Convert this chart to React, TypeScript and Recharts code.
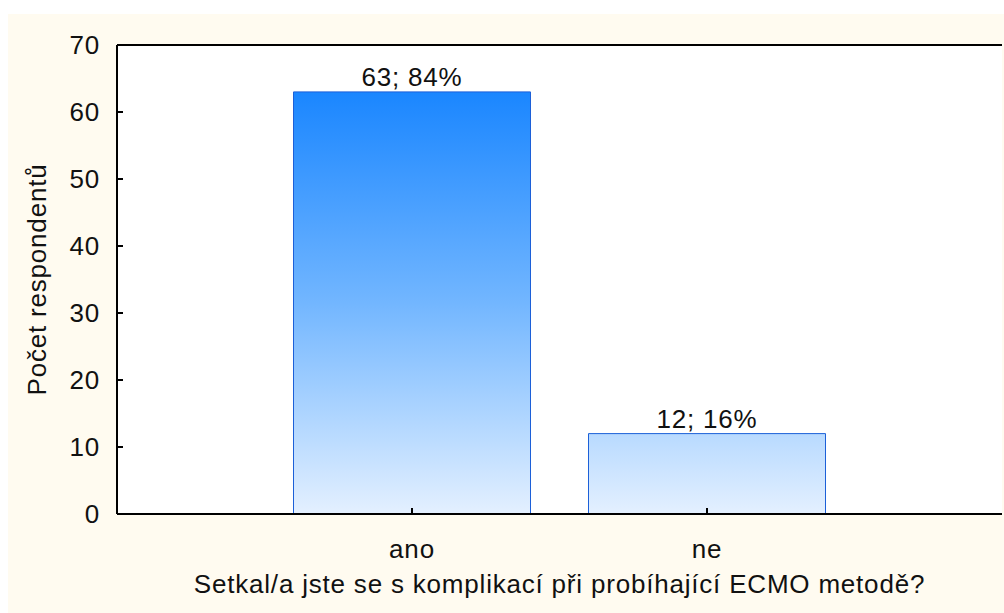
import React from 'react';
import {
  BarChart,
  Bar,
  XAxis,
  YAxis,
  CartesianGrid,
  LabelList,
  ReferenceLine,
} from 'recharts';

// Odpovědi na otázku o komplikacích při ECMO
const answers = ['ano', 'ne'];
const counts = [63, 12];
const yTicks = [0, 10, 20, 30, 40, 50, 60, 70];

const total = counts.reduce((s, v) => s + v, 0);
const data = answers.map((name, i) => ({ name, value: counts[i] }));

const FONT = '"Liberation Sans", Arial, sans-serif';
const FS = 26;
const LS = 0.8;

// tick marks point into the plot area
const LeftTick = (props: any) => {
  const { x, y, payload } = props;
  return (
    <g>
      <line x1={x} y1={y} x2={x + 6} y2={y} stroke="#000" strokeWidth={2} />
      <text
        x={x - 17}
        y={y + 9}
        textAnchor="end"
        fontSize={FS}
        letterSpacing={LS}
        fontFamily={FONT}
        fill="#111"
      >
        {payload.value}
      </text>
    </g>
  );
};

const RightTick = (props: any) => {
  const { x, y } = props;
  return <line x1={x - 6} y1={y} x2={x} y2={y} stroke="#000" strokeWidth={2} />;
};

const BottomTick = (props: any) => {
  const { x, y, payload } = props;
  return (
    <g>
      <line x1={x} y1={y} x2={x} y2={y - 6} stroke="#000" strokeWidth={2} />
      <text
        x={x}
        y={y + 44}
        textAnchor="middle"
        fontSize={FS}
        letterSpacing={LS}
        fontFamily={FONT}
        fill="#111"
      >
        {payload.value}
      </text>
    </g>
  );
};

const YTitle = (props: any) => {
  const { viewBox } = props;
  const cx = viewBox.x + 29;
  const cy = viewBox.y + viewBox.height / 2;
  return (
    <text
      x={cx}
      y={cy}
      transform={`rotate(-90, ${cx}, ${cy})`}
      textAnchor="middle"
      dominantBaseline="central"
      fontSize={FS}
      letterSpacing={LS}
      fontFamily={FONT}
      fill="#111"
    >
      Počet respondentů
    </text>
  );
};

const XTitle = (props: any) => {
  const { viewBox } = props;
  return (
    <text
      x={viewBox.x + viewBox.width / 2}
      y={viewBox.y + 79}
      textAnchor="middle"
      fontSize={FS}
      letterSpacing={LS}
      fontFamily={FONT}
      fill="#111"
    >
      Setkal/a jste se s komplikací při probíhající ECMO metodě?
    </text>
  );
};

const valueLabel = (v: any) => `${v}; ${Math.round((Number(v) / total) * 100)}%`;

export default function App() {
  return (
    <div
      style={{
        position: 'absolute',
        left: 8,
        top: 14,
        width: 996,
        height: 599,
        background: '#FFFBF0',
      }}
    >
      <BarChart
        width={996}
        height={599}
        data={data}
        margin={{ top: 31, right: 2, bottom: 0, left: 0 }}
      >
        <defs>
          <linearGradient id="barFill" gradientUnits="userSpaceOnUse" x1="0" y1="77" x2="0" y2="500">
            <stop offset="0" stopColor="#1A86FF" />
            <stop offset="0.5" stopColor="#72B6FF" />
            <stop offset="0.81" stopColor="#B8DAFF" />
            <stop offset="1" stopColor="#E4F0FF" />
          </linearGradient>
        </defs>
        <rect x={109} y={31} width={885} height={469} fill="#fff" />
        <CartesianGrid vertical={false} stroke="#E8E8E8" strokeWidth={2} />
        <XAxis
          dataKey="name"
          height={99}
          padding={{ left: 147.5, right: 147.5 }}
          axisLine={{ stroke: '#000', strokeWidth: 2 }}
          tickLine={false}
          tickSize={0}
          tickMargin={0}
          tick={<BottomTick />}
          label={<XTitle />}
        />
        <YAxis
          width={109}
          domain={[0, 70]}
          ticks={yTicks}
          interval={0}
          axisLine={{ stroke: '#000', strokeWidth: 2 }}
          tickLine={false}
          tickSize={0}
          tickMargin={0}
          tick={<LeftTick />}
          label={<YTitle />}
        />
        <YAxis
          yAxisId="right"
          orientation="right"
          width={0}
          domain={[0, 70]}
          ticks={yTicks}
          interval={0}
          axisLine={{ stroke: '#000', strokeWidth: 2 }}
          tickLine={false}
          tickSize={0}
          tickMargin={0}
          tick={<RightTick />}
        />
        <ReferenceLine y={70} stroke="#000" strokeWidth={2} />
        <Bar
          dataKey="value"
          barSize={237}
          fill="url(#barFill)"
          stroke="#1C60D8"
          strokeWidth={1}
          isAnimationActive={false}
        >
          <LabelList
            dataKey="value"
            position="top"
            offset={6}
            formatter={valueLabel}
            style={{ fontSize: FS, letterSpacing: LS, fontFamily: FONT, fill: '#111' }}
          />
        </Bar>
      </BarChart>
    </div>
  );
}
